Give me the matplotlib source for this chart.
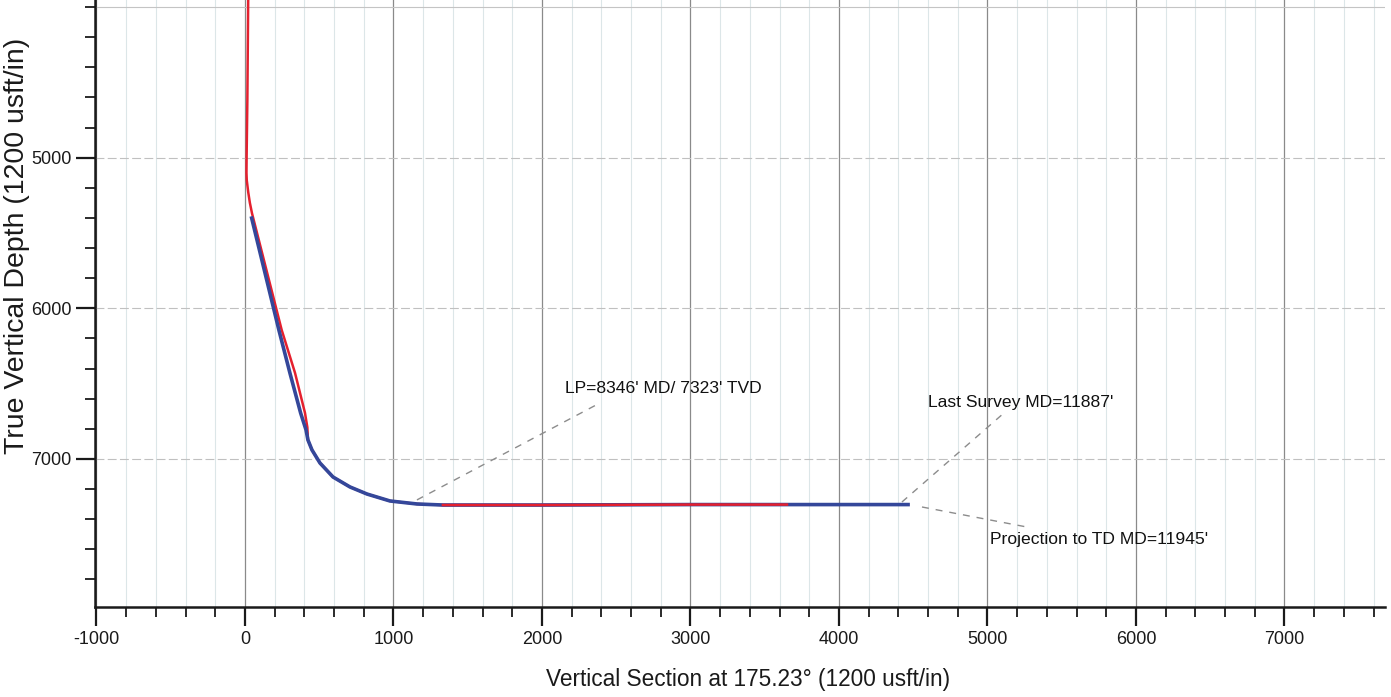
import matplotlib
matplotlib.use("Agg")
import matplotlib.pyplot as plt
import numpy as np
from matplotlib.ticker import MultipleLocator

plt.rcParams['font.family'] = ['Liberation Sans', 'DejaVu Sans']
plt.rcParams['axes.unicode_minus'] = False

# plan (red) - vertical section vs TVD
plan_vs = [22, 16, 11, 10, 12, 22, 33, 47, 247, 337, 404, 420, 424, 451, 505, 593, 707, 822, 976, 1158, 1333, 2000, 3000, 3650, 4000, 4465]
plan_tvd = [3900, 4615, 4993, 5100, 5150, 5230, 5300, 5368, 6143, 6429, 6694, 6790, 6874, 6940, 7027, 7120, 7186, 7233, 7279, 7299, 7306, 7306, 7303, 7303, 7303, 7303]

# actual survey (blue)
svy_vs = [45, 228, 303, 375, 411, 424, 451, 505, 593, 707, 822, 976, 1158, 1333, 2000, 3000, 4000, 4465]
svy_tvd = [5401, 6143, 6431, 6696, 6807, 6874, 6940, 7027, 7120, 7186, 7233, 7279, 7299, 7306, 7306, 7303, 7303, 7303]

# annotation leaders: label, start, end, text position
notes = [
    ("LP=8346' MD/ 7323' TVD", (1158, 7272), (2391, 6628), (2155, 6535)),
    ("Last Survey MD=11887'", (4424, 7286), (5104, 6701), (4599, 6628)),
    ("Projection to TD MD=11945'", (4559, 7319), (5266, 7452), (5017, 7538)),
]

fig = plt.figure(figsize=(13.91, 6.97), dpi=100)
ax = fig.add_axes([95 / 1391, 1 - 607 / 697, 1290 / 1391, 607 / 697])

ax.set_xlim(-1010, 7677)
ax.set_ylim(7983, 3953)

ax.xaxis.set_major_locator(MultipleLocator(1000))
ax.xaxis.set_minor_locator(MultipleLocator(200))
ax.set_yticks([5000, 6000, 7000])
ax.yaxis.set_minor_locator(MultipleLocator(200))

# grid
ax.grid(which='major', axis='x', color='#8a8a8a', lw=0.9)
ax.grid(which='minor', axis='x', color='#dce6e8', lw=0.8)
ax.grid(which='major', axis='y', color='#c0c0c0', lw=0.8, ls=(0, (8, 3)))
ax.axhline(4000, color='#c4c4c4', lw=0.8)
ax.set_axisbelow(True)

# trajectories
ax.plot(plan_vs, plan_tvd, color='#e5202e', lw=1.8, zorder=3)
ax.plot(svy_vs, svy_tvd, color='#34479a', lw=2.6, zorder=4)
pv = np.array(plan_vs)
pt = np.array(plan_tvd)
seg = (pv >= 1300) & (pv <= 3650)
ax.plot(pv[seg], pt[seg], color='#e5202e', lw=1.8, zorder=5)

for label, p0, p1, tpos in notes:
    ax.plot([p0[0], p1[0]], [p0[1], p1[1]], color='#8c8c8c', lw=1.0, ls=(0, (5, 5)), zorder=2)
    ax.text(tpos[0], tpos[1], label, fontsize=12.6, color='#111111', ha='left', va='center')

for s in ['top', 'right']:
    ax.spines[s].set_visible(False)
for s in ['left', 'bottom']:
    ax.spines[s].set_linewidth(1.8)
    ax.spines[s].set_color('#1a1a1a')

ax.tick_params(which='major', direction='out', length=14, width=1.6, labelsize=13, colors='#1a1a1a', pad=3)
ax.tick_params(which='minor', direction='out', length=7, width=1.3, colors='#1a1a1a')

ax.set_xlabel("Vertical Section at 175.23\u00b0 (1200 usft/in)", fontsize=16.3, color='#1a1a1a', va='top')
ax.xaxis.set_label_coords(0.5066, -0.1005)
ax.set_ylabel("True Vertical Depth (1200 usft/in)", fontsize=20.5, color='#1a1a1a', va='center')
ax.yaxis.set_label_coords(-0.0608, 0.595)

fig.savefig("out.png", dpi=100)
